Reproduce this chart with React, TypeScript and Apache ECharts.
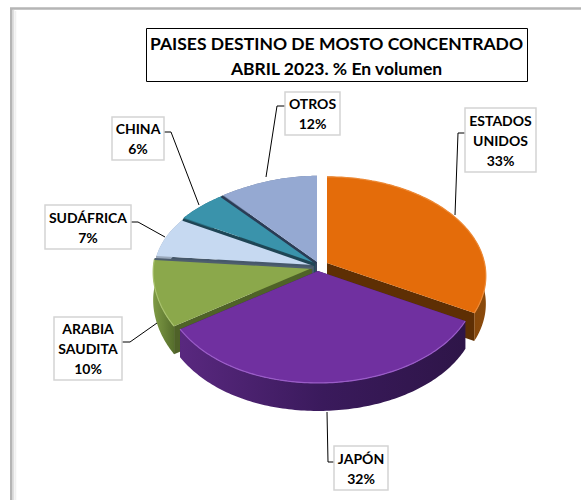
import React, { useEffect, useRef } from "react";
import * as echarts from "echarts";

const titleLines = ["PAISES DESTINO DE MOSTO CONCENTRADO", "ABRIL 2023. % En volumen"];
const categories = ["ESTADOS\nUNIDOS", "JAPÓN", "ARABIA\nSAUDITA", "SUDÁFRICA", "CHINA", "OTROS"];
const values = [33, 32, 10, 7, 6, 12];

const topColors = ["#E46C0A", "#7030A0", "#8BA84B", "#C6D9F1", "#3A93AB", "#95A9D2"];
const innerColors = ["#5E2F04", "#3A1A5C", "#4F6228", "#46586A", "#1F4E5C", "#36465F"];
const wallStops = [
  ["#8A4A0C", "#6E3804", "#5A2C02"],
  ["#59287F", "#3A1A5C", "#2E1548"],
  ["#7E9A45", "#6B8539", "#566E2C"],
  ["#9AA9BC", "#9AA9BC", "#9AA9BC"],
  ["#2A7184", "#2A7184", "#2A7184"],
  ["#6F7F9E", "#6F7F9E", "#6F7F9E"],
];
const rimColors = ["#EE8A36", "#9A5CC8", "#A9C26E", "", "", ""];
const seamColors = ["", "", "#4E5E6E", "#1F4555", "#2A3C55", ""];
const drawOrder = [5, 4, 3, 2, 0, 1];

// pie projection layout
const apexes = [[327, 263], [318, 271], [312, 268], [314, 265], [315, 263], [317, 262]];
const RX = 157.5, RY = 97.4, PERSP = 0.13, DEPTH = 28, LIFT = 9, BACK_LEFT_TRIM = 5;

// label layout: box [x, y, w, h], leader polyline
const labelBoxes = [[465, 108, 71, 64], [334, 446, 54, 44], [54, 317, 68, 63], [45, 205, 86, 44], [112, 117, 52, 43], [285, 92, 55, 43]];
const leaders = [
  [[465, 133], [458, 133], [455, 215]],
  [[334, 462], [328, 462], [327, 412]],
  [[122, 342], [130, 342], [157, 323]],
  [[131, 222], [138, 222], [165, 237]],
  [[164, 132], [171, 132], [199, 205]],
  [[285, 106], [277, 106], [266, 177]],
];

const total = values.reduce((a, b) => a + b, 0);

function project(idx: number, deg: number, drop = 0): number[] {
  const t = (deg * Math.PI) / 180;
  const u = Math.sin(t);
  const v = -Math.cos(t);
  const s = 1 / (1 - PERSP * v);
  const lift = u < 0 ? LIFT * u * u * u * u : 0;
  const trim = u < 0 && v < 0 ? BACK_LEFT_TRIM * 2 * u * v : 0;
  return [apexes[idx][0] + RX * u * s + trim, apexes[idx][1] + RY * v * s - lift + drop];
}

function arc(idx: number, a: number, b: number, drop = 0): number[][] {
  const pts: number[][] = [];
  const n = Math.max(2, Math.ceil(b - a));
  for (let i = 0; i <= n; i++) pts.push(project(idx, a + ((b - a) * i) / n, drop));
  return pts;
}

function renderSlice(_params: any, api: any) {
  const idx = api.value(1);
  let before = 0;
  for (let i = 0; i < idx; i++) before += values[i];
  const a = (before / total) * 360;
  const b = ((before + api.value(0)) / total) * 360;
  const [ax, ay] = apexes[idx];
  const top = arc(idx, a, b);
  const bottom = arc(idx, a, b, DEPTH).reverse();
  const first = top[0];
  const last = top[top.length - 1];
  const inner = innerColors[idx];
  const children: any[] = [
    { type: "polygon", shape: { points: [[ax, ay], first, [first[0], first[1] + DEPTH], [ax, ay + DEPTH]] }, style: { fill: inner } },
    { type: "polygon", shape: { points: [[ax, ay], last, [last[0], last[1] + DEPTH], [ax, ay + DEPTH]] }, style: { fill: inner } },
    {
      type: "polygon",
      shape: { points: [...top, ...bottom] },
      style: {
        fill: new echarts.graphic.LinearGradient(0, 0, 1, 0, [
          { offset: 0, color: wallStops[idx][idx === 0 ? 2 : 0] },
          { offset: 0.5, color: wallStops[idx][1] },
          { offset: 1, color: wallStops[idx][idx === 0 ? 0 : 2] },
        ]),
      },
    },
    { type: "polygon", shape: { points: [[ax, ay], ...top] }, style: { fill: topColors[idx] } },
  ];
  if (rimColors[idx]) {
    children.push({
      type: "polyline",
      shape: { points: top },
      style: { fill: "none", stroke: rimColors[idx], lineWidth: 1.2 },
    });
  }
  if (seamColors[idx]) {
    children.push({
      type: "polyline",
      shape: { points: [[ax + 1, ay], last] },
      style: { fill: "none", stroke: seamColors[idx], lineWidth: idx === 2 ? 1.8 : 2.4 },
    });
  }
  return { type: "group", children };
}

export default function App() {
  const ref = useRef<HTMLDivElement>(null);
  useEffect(() => {
    document.body.style.margin = "0";
    const chart = echarts.init(ref.current!, undefined, { renderer: "svg" });
    const labelGraphics: any[] = [];
    categories.forEach((name, i) => {
      const [x, y, w, h] = labelBoxes[i];
      labelGraphics.push({
        type: "polyline",
        z: 5,
        shape: { points: leaders[i] },
        style: { fill: "none", stroke: "#000", lineWidth: 1 },
      });
      labelGraphics.push({
        type: "rect",
        z: 6,
        shape: { x, y, width: w, height: h },
        style: { fill: "#fff", stroke: "#D4D4D4", lineWidth: 1.5 },
      });
      labelGraphics.push({
        type: "text",
        z: 7,
        x: x + w / 2,
        y: y + h / 2,
        style: {
          text: `${name}\n${values[i]}%`,
          fill: "#000",
          font: "bold 14px Lato",
          lineHeight: 20,
          align: "center",
          verticalAlign: "middle",
        },
      });
    });
    chart.setOption({
      animation: false,
      backgroundColor: "#fff",
      title: {
        text: titleLines.join("\n"),
        left: 336.5,
        top: 31,
        textAlign: "center",
        padding: 0,
        textStyle: { fontFamily: "Lato", fontWeight: "bold", fontSize: 17.5, lineHeight: 25, color: "#000" },
      },
      graphic: [
        { type: "polyline", z: 1, shape: { points: [[15.5, 500], [15.5, 11]] }, style: { fill: "none", stroke: "#F0F0F0", lineWidth: 1.5 } },
        { type: "polyline", z: 1, shape: { points: [[13.5, 500], [13.5, 10]] }, style: { fill: "none", stroke: "#DEDEDE", lineWidth: 1.5 } },
        {
          type: "polyline",
          z: 1,
          shape: { points: [[11.25, 500], [11.25, 8.5], [581, 8.5]] },
          style: { fill: "none", stroke: "#B5B5B5", lineWidth: 2.5 },
        },
        {
          type: "rect",
          z: 1,
          shape: { x: 146.5, y: 28.5, width: 381, height: 53 },
          style: { fill: "#fff", stroke: "#000", lineWidth: 1 },
        },
        ...labelGraphics,
      ],
      series: [
        {
          type: "custom",
          coordinateSystem: "none",
          silent: true,
          renderItem: renderSlice,
          z: 3,
          data: drawOrder.map((i) => ({ name: categories[i], value: [values[i], i] })),
        },
      ],
    });
    return () => chart.dispose();
  }, []);
  return <div ref={ref} style={{ position: "absolute", left: 0, top: 0, width: 581, height: 500 }} />;
}
